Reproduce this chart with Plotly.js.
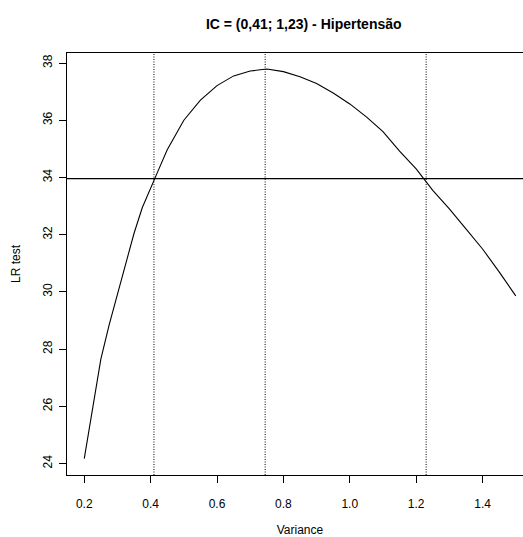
<!DOCTYPE html>
<html>
<head>
<meta charset="utf-8">
<script src="https://cdn.plot.ly/plotly-3.0.1.min.js"></script>
<style>
html, body { margin:0; padding:0; overflow:hidden; background:#fff; }
#chart { width:540px; height:537px; }
</style>
</head>
<body>
<div id="chart"></div>
<script>
const variance = [0.200,0.225,0.250,0.275,0.300,0.325,0.350,0.375,0.400,0.425,0.450,0.475,0.500,0.550,0.600,0.650,0.700,0.750,0.800,0.850,0.900,0.950,1.000,1.050,1.100,1.150,1.200,1.250,1.300,1.350,1.400,1.450,1.500];
const lrTest   = [24.17,25.90,27.65,28.85,29.90,31.00,32.05,32.95,33.65,34.30,34.97,35.50,36.00,36.70,37.21,37.55,37.72,37.79,37.70,37.52,37.28,36.95,36.57,36.12,35.60,34.92,34.30,33.55,32.90,32.20,31.50,30.70,29.86];
const ciBounds = [0.41, 1.23];
const mleVariance = 0.745;
const cutoff = 33.96;
const xTicks = [0.2,0.4,0.6,0.8,1.0,1.2,1.4];
const xTickLabels = ["0.2","0.4","0.6","0.8","1.0","1.2","1.4"];
const yTicks = [24,26,28,30,32,34,36,38];
const yTickLabels = ["24","26","28","30","32","34","36","38"];
const titleText = "IC = (0,41; 1,23) - Hipertensão";

const FONT = "Liberation Sans, Arial, Helvetica, sans-serif";

const vlines = ciBounds.concat([mleVariance]).map(v => ({
  type:'line', xref:'x', yref:'paper', x0:v, x1:v, y0:0, y1:1,
  line:{color:'#000', width:1, dash:'1px,1.5px'}
}));
const hline = {type:'line', xref:'paper', yref:'y', x0:0, x1:1, y0:cutoff, y1:cutoff,
  line:{color:'#000', width:1.2}};

const trace = {x:variance, y:lrTest, type:'scatter', mode:'lines',
  line:{color:'#000', width:1.1}, hoverinfo:'skip'};

const layout = {
  width:540, height:537,
  margin:{l:67, r:7, t:53, b:62},
  paper_bgcolor:'#fff', plot_bgcolor:'#fff',
  font:{family:FONT, size:12, color:'#000'},
  showlegend:false,
  title:{text:titleText, font:{family:FONT, size:14, color:'#000', weight:'bold'},
    x:0.5625, xanchor:'center', y:0.955, yanchor:'middle'},
  xaxis:{range:[0.148,1.552], tickvals:xTicks, ticktext:xTickLabels,
    ticks:'outside', ticklen:7, tickwidth:1, tickcolor:'#000',
    showline:true, mirror:true, linecolor:'#000', linewidth:1,
    showgrid:false, zeroline:false, ticklabelstandoff:11,
    tickfont:{family:FONT, size:12, color:'#000'},
    title:{text:'Variance', font:{family:FONT, size:12, color:'#000'}, standoff:18}},
  yaxis:{range:[23.6,38.35], tickvals:yTicks, ticktext:yTickLabels,
    ticks:'outside', ticklen:7, tickwidth:1, tickcolor:'#000',
    showline:true, mirror:true, linecolor:'#000', linewidth:1,
    showgrid:false, zeroline:false, tickangle:-90, ticklabelstandoff:2,
    tickfont:{family:FONT, size:12, color:'#000'},
    title:{text:'LR test', font:{family:FONT, size:12, color:'#000'}, standoff:18}},
  shapes: vlines.concat([hline])
};

Plotly.newPlot('chart', [trace], layout, {displayModeBar:false, staticPlot:true});
</script>
</body>
</html>
